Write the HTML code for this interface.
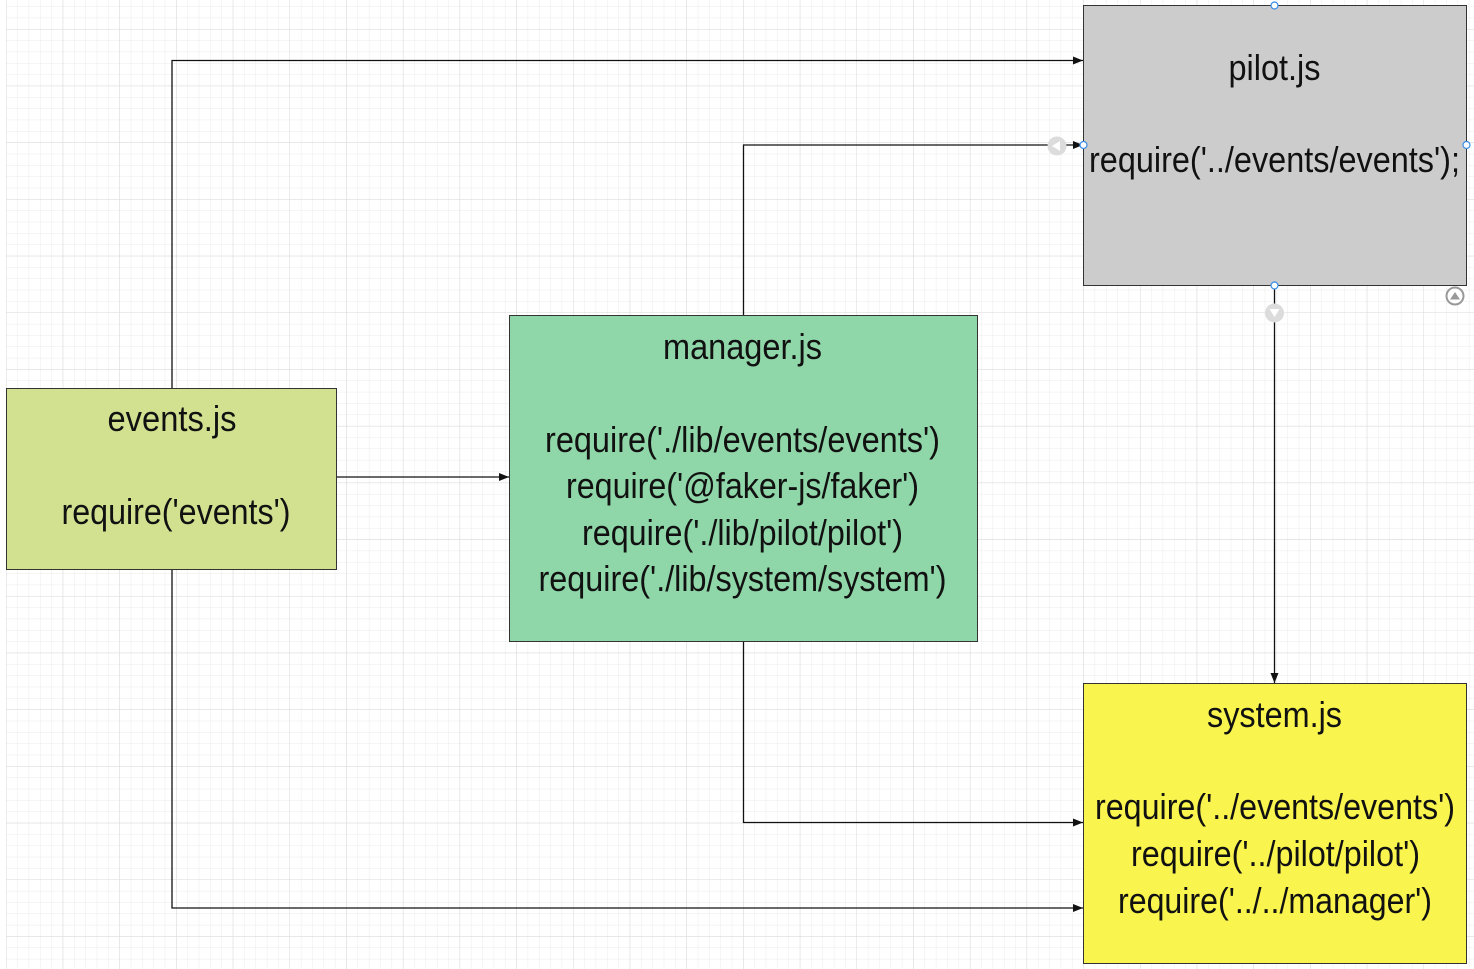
<!DOCTYPE html>
<html><head><meta charset="utf-8"><style>
html,body{margin:0;padding:0;background:#fff;}
svg{display:block;}
text{font-family:"Liberation Sans",Arial,sans-serif;font-size:36px;fill:#111;}
</style></head><body>
<svg width="1474" height="969" viewBox="0 0 1474 969" xmlns="http://www.w3.org/2000/svg">
<defs>
<pattern id="minor" x="6" y="6.3" width="11.34" height="11.34" patternUnits="userSpaceOnUse">
<path d="M0 0H11.34M0 0V11.34" stroke="#ebebeb" stroke-width="1" fill="none"/>
</pattern>
<pattern id="major" x="6" y="29" width="56.7" height="56.7" patternUnits="userSpaceOnUse">
<path d="M0 0H56.7M0 0V56.7" stroke="#d9d9d9" stroke-width="1" fill="none"/>
</pattern>
<marker id="ar" markerWidth="10" markerHeight="8" refX="10" refY="4" orient="auto" markerUnits="userSpaceOnUse">
<path d="M0 0L10 4L0 8Z" fill="#111"/>
</marker>
</defs>
<rect x="6" y="0" width="1468" height="969" fill="url(#minor)"/>
<rect x="6" y="0" width="1468" height="969" fill="url(#major)"/>

<g stroke="#111" stroke-width="1.3" fill="none">
<path d="M172 388V60.5H1083" marker-end="url(#ar)"/>
<path d="M743.5 315V145H1083" marker-end="url(#ar)"/>
<path d="M336 477H509" marker-end="url(#ar)"/>
<path d="M743.5 641V822.5H1083" marker-end="url(#ar)"/>
<path d="M172 569V908H1083" marker-end="url(#ar)"/>
<path d="M1274.5 285V683" marker-end="url(#ar)"/>
</g>

<rect x="1083.5" y="5.5" width="383" height="280" fill="#cccccc" stroke="#333" stroke-width="1"/>
<rect x="509.5" y="315.5" width="468" height="326" fill="#8fd6a8" stroke="#333" stroke-width="1"/>
<rect x="6.5" y="388.5" width="330" height="181" fill="#d2e190" stroke="#333" stroke-width="1"/>
<rect x="1083.5" y="683.5" width="383" height="280" fill="#f9f44e" stroke="#333" stroke-width="1"/>

<text x="1274.5" y="80" text-anchor="middle" textLength="92" lengthAdjust="spacingAndGlyphs">pilot.js</text>
<text x="1274.5" y="172" text-anchor="middle" textLength="371" lengthAdjust="spacingAndGlyphs">require('../events/events');</text>

<text x="742.5" y="359" text-anchor="middle" textLength="159" lengthAdjust="spacingAndGlyphs">manager.js</text>
<text x="742.5" y="452" text-anchor="middle" textLength="395" lengthAdjust="spacingAndGlyphs">require('./lib/events/events')</text>
<text x="742.5" y="498" text-anchor="middle" textLength="353" lengthAdjust="spacingAndGlyphs">require('@faker-js/faker')</text>
<text x="742.5" y="545" text-anchor="middle" textLength="321" lengthAdjust="spacingAndGlyphs">require('./lib/pilot/pilot')</text>
<text x="742.5" y="591" text-anchor="middle" textLength="408" lengthAdjust="spacingAndGlyphs">require('./lib/system/system')</text>

<text x="172" y="431" text-anchor="middle" textLength="129" lengthAdjust="spacingAndGlyphs">events.js</text>
<text x="176" y="524" text-anchor="middle" textLength="229" lengthAdjust="spacingAndGlyphs">require('events')</text>

<text x="1274.5" y="727" text-anchor="middle" textLength="135" lengthAdjust="spacingAndGlyphs">system.js</text>
<text x="1275" y="819" text-anchor="middle" textLength="360" lengthAdjust="spacingAndGlyphs">require('../events/events')</text>
<text x="1275.5" y="866" text-anchor="middle" textLength="289" lengthAdjust="spacingAndGlyphs">require('../pilot/pilot')</text>
<text x="1275" y="913" text-anchor="middle" textLength="314" lengthAdjust="spacingAndGlyphs">require('../../manager')</text>

<g fill="#fff" stroke="#3a8ee6" stroke-width="1.2">
<circle cx="1274.5" cy="5.5" r="3.5"/>
<circle cx="1083.5" cy="145" r="3.5"/>
<circle cx="1466.5" cy="145" r="3.5"/>
<circle cx="1274.5" cy="285.5" r="3.5"/>
</g>
<circle cx="1057" cy="146" r="9.5" fill="#dcdcdc"/>
<path d="M1052 146L1060 141V151Z" fill="#fff"/>
<circle cx="1274.5" cy="313" r="9.5" fill="#dcdcdc"/>
<path d="M1269.5 309H1279.5L1274.5 317Z" fill="#fff"/>
<circle cx="1455" cy="296" r="8.5" fill="#fff" stroke="#999" stroke-width="2"/>
<path d="M1450 299.5H1460L1455 292Z" fill="#999"/>
</svg>
</body></html>
